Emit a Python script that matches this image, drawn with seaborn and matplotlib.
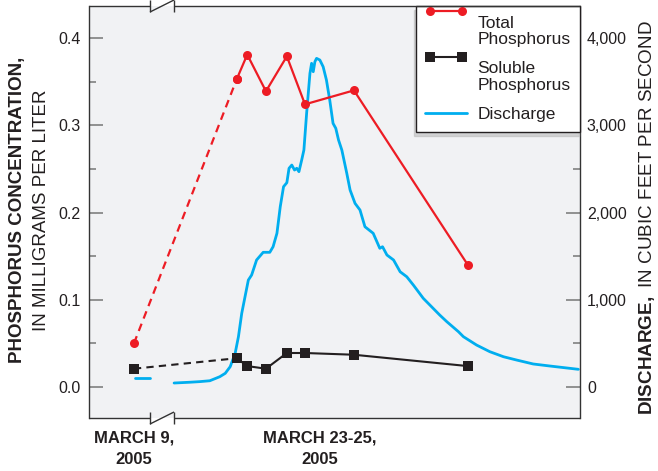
import numpy as np
import pandas as pd
import matplotlib
matplotlib.use("Agg")
import matplotlib.pyplot as plt
import seaborn as sns
from matplotlib.legend_handler import HandlerLine2D
from matplotlib.ticker import MultipleLocator, FuncFormatter, FormatStrFormatter

# ---------------- data (x = hours relative to start of March 23 storm window) -------------
sample_hours = [-7.1, 11.6, 13.5, 16.9, 20.7, 24.0, 32.9, 53.6]
total_phosphorus = [0.050, 0.353, 0.381, 0.339, 0.379, 0.324, 0.340, 0.140]
soluble_phosphorus = [0.021, 0.033, 0.024, 0.021, 0.039, 0.039, 0.037, 0.024]

mar9_hours = [-6.9, -4.2]
mar9_discharge = [103, 103]

storm_hours = [0.2, 3.1, 4.9, 6.7, 8.5, 9.5, 10.4, 11.3, 11.9, 12.5, 13.1, 13.7, 14.3,
               15.2, 16.4, 17.6, 18.2, 18.9, 19.5, 20.1, 20.7, 21.1, 21.6, 22.1, 22.5,
               22.9, 23.4, 23.8, 24.3, 24.9, 25.2, 25.5, 25.8, 26.1, 26.7, 27.3, 27.9,
               28.5, 29.1, 29.6, 30.1, 30.7, 31.6, 32.2, 33.1, 34.0, 34.9, 36.4, 37.6,
               38.1, 38.9, 40.1, 41.3, 42.5, 43.7, 45.5, 48.5, 49.8, 51.9, 52.8, 55.2,
               57.6, 60.1, 62.5, 65.5, 68.5, 73.7]
storm_discharge = [46, 55, 62, 72, 118, 157, 233, 386, 577, 845, 1036, 1226, 1284,
                   1456, 1544, 1544, 1608, 1762, 2066, 2296, 2342, 2507, 2544, 2487, 2507,
                   2468, 2602, 2716, 3140, 3595, 3710, 3614, 3728, 3767, 3748, 3671, 3518,
                   3289, 3022, 2965, 2831, 2716, 2449, 2258, 2105, 2029, 1837, 1762, 1590,
                   1608, 1513, 1456, 1321, 1264, 1169, 1017, 825, 748, 634, 577, 481,
                   405, 347, 309, 264, 241, 203]

x_tick_hours = [-7.1, 26.7]
x_tick_labels = ["MARCH 9,\n2005", "MARCH 23-25,\n2005"]

# ---------------- style ----------------
sns.set_style("ticks")
plt.rcParams['font.family'] = ['Liberation Sans', 'DejaVu Sans']
plt.rcParams['mathtext.fontset'] = 'custom'
plt.rcParams['mathtext.rm'] = 'Liberation Sans'
plt.rcParams['mathtext.bf'] = 'Liberation Sans:bold'

RED = '#ed1c24'
BLACK = '#231f20'
BLUE = '#00aeef'
BG = '#f1f2f4'
SPINE = '#333333'
TICK = '#808080'

fig = plt.figure(figsize=(6.58, 4.71), dpi=100)
ax = fig.add_axes([89/658, 1-418/471, 491/658, 412/471])
ax2 = ax.twinx()
ax.set_zorder(ax2.get_zorder() + 1)
ax.patch.set_visible(False)
ax2.patch.set_visible(True)
ax2.patch.set_facecolor(BG)

# discharge
sns.lineplot(x=mar9_hours, y=mar9_discharge, ax=ax2, color=BLUE, lw=2.0, legend=False)
sns.lineplot(x=storm_hours, y=storm_discharge, ax=ax2, color=BLUE, lw=2.0,
             label='Discharge', legend=False, sort=False)

# phosphorus
dash = (0, (3.5, 2.5))
sns.lineplot(x=sample_hours[:2], y=total_phosphorus[:2], ax=ax, color=RED, lw=1.6,
             linestyle=dash, marker='o', markersize=6.5, markeredgewidth=0, legend=False)
sns.lineplot(x=sample_hours[1:], y=total_phosphorus[1:], ax=ax, color=RED, lw=1.6,
             marker='o', markersize=6.5, markeredgewidth=0, label='Total\nPhosphorus',
             legend=False, sort=False)
sns.lineplot(x=sample_hours[:2], y=soluble_phosphorus[:2], ax=ax, color=BLACK, lw=1.5,
             linestyle=dash, marker='s', markersize=6.5, markeredgewidth=0, legend=False)
sns.lineplot(x=sample_hours[1:], y=soluble_phosphorus[1:], ax=ax, color=BLACK, lw=1.5,
             marker='s', markersize=6.5, markeredgewidth=0, label='Soluble\nPhosphorus',
             legend=False, sort=False)

# axes limits
ax.set_xlim(-15.27, 74.0)
ax.set_ylim(-0.0355, 0.4367)
ax2.set_ylim(-355, 4367)
ax.set_xlabel('')
ax.set_ylabel('')
ax2.set_ylabel('')

# ticks
ax.yaxis.set_major_locator(MultipleLocator(0.1))
ax.yaxis.set_minor_locator(MultipleLocator(0.05))
ax.yaxis.set_major_formatter(FormatStrFormatter('%.1f'))
ax.tick_params(axis='y', which='both', direction='in', left=True, right=False,
               color=TICK, width=1.2, labelsize=11.5, labelcolor='#231f20', pad=6)
ax.tick_params(axis='y', which='major', length=10)
ax.tick_params(axis='y', which='minor', length=5)

ax2.yaxis.set_major_locator(MultipleLocator(1000))
ax2.yaxis.set_minor_locator(MultipleLocator(500))
ax2.yaxis.set_major_formatter(FuncFormatter(lambda v, p: f"{v:,.0f}"))
ax2.tick_params(axis='y', which='both', direction='in', right=True, left=False,
                color=TICK, width=1.2, labelsize=11.5, labelcolor='#231f20', pad=5)
ax2.tick_params(axis='y', which='major', length=10)
ax2.tick_params(axis='y', which='minor', length=5)

ax.set_xticks(x_tick_hours)
ax.set_xticklabels(x_tick_labels, fontweight='bold', fontsize=12, color='#231f20',
                   linespacing=1.55)
ax.tick_params(axis='x', length=0, pad=9)

# spines with broken top/bottom
for a in (ax, ax2):
    a.spines['top'].set_visible(False)
    a.spines['bottom'].set_visible(False)
ax.spines['right'].set_visible(False)
ax2.spines['left'].set_visible(False)
ax.spines['left'].set_color(SPINE)
ax2.spines['right'].set_color(SPINE)
ax.spines['left'].set_linewidth(1.0)
ax2.spines['right'].set_linewidth(1.0)

b0, b1 = (150 - 89) / 491, (174 - 89) / 491
e = 6 / 412
line_kw = dict(transform=ax.transAxes, clip_on=False, color=SPINE, lw=1.0,
               solid_capstyle='butt', zorder=10)
for yb in (0.0, 1.0):
    ax.plot([0, b0], [yb, yb], **line_kw)
    ax.plot([b1, 1], [yb, yb], **line_kw)
    ax.plot([b0, b0], [yb - e, yb + e], **line_kw)
    ax.plot([b1, b1], [yb - e, yb + e], **line_kw)
    ax.plot([b0, b1], [yb - e, yb + e], **line_kw)

# legend with handle aligned to first label line
class UpHandler(HandlerLine2D):
    def __init__(self, dy=0.0, **kw):
        super().__init__(**kw)
        self.dy = dy

    def create_artists(self, legend, orig_handle, xdescent, ydescent, width, height,
                       fontsize, trans):
        arts = super().create_artists(legend, orig_handle, xdescent, ydescent, width,
                                      height, fontsize, trans)
        for a in arts:
            a.set_ydata(np.asarray(a.get_ydata()) + self.dy * fontsize)
        return arts

h1, l1 = ax.get_legend_handles_labels()
h2, l2 = ax2.get_legend_handles_labels()
handles = h1 + h2
labels = l1 + l2
hmap = {handles[0]: UpHandler(dy=1.15, numpoints=2),
        handles[1]: UpHandler(dy=1.15, numpoints=2)}
leg = ax.legend(handles, labels, loc='upper right', borderaxespad=0, frameon=True,
                fancybox=False, fontsize=12.5, handlelength=2.4, handletextpad=0.6,
                labelspacing=0.8, borderpad=0.55, handler_map=hmap,
                shadow={'ox': -1, 'oy': -3, 'shade': 0.3})
leg.get_frame().set_edgecolor(BLACK)
leg.get_frame().set_linewidth(1.0)
leg.get_frame().set_facecolor('white')
leg.get_frame().set_alpha(1)
for t in leg.get_texts():
    t.set_color('#231f20')
    t.set_linespacing(1.15)

# axis titles
fig.text(18/658, 1 - 210/471, "PHOSPHORUS CONCENTRATION,", rotation=90, ha='center',
         va='center', fontweight='bold', fontsize=13.5, color='#231f20')
fig.text(42/658, 1 - 210/471, "IN MILLIGRAMS PER LITER", rotation=90, ha='center',
         va='center', fontsize=13.5, color='#231f20')
fig.text(647/658, 1 - 218/471, r"$\mathbf{DISCHARGE,}$ IN CUBIC FEET PER SECOND",
         rotation=90, ha='center', va='center', fontsize=13.6, color='#231f20')

fig.savefig("out.png", dpi=100)
